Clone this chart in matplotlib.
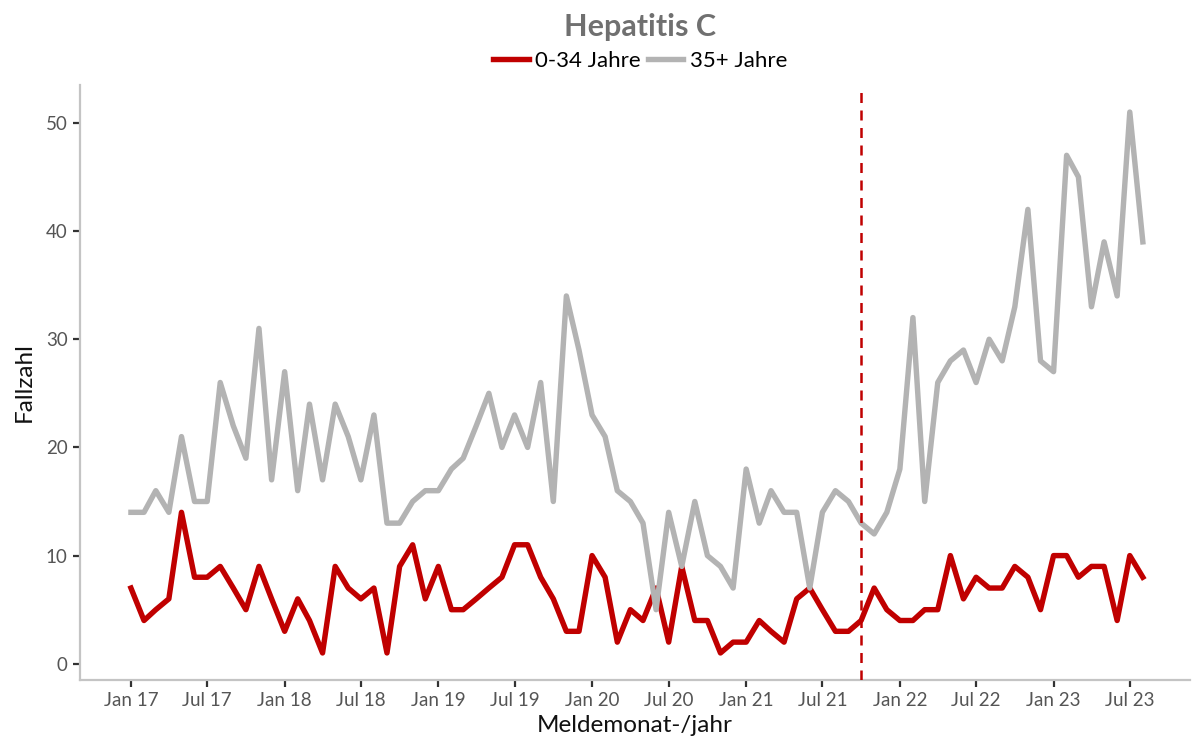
import pandas as pd
import numpy as np
import matplotlib
matplotlib.use("Agg")
import matplotlib.pyplot as plt
import matplotlib.dates as mdates

# monthly case counts, Jan 2017 - Aug 2023
months = pd.date_range("2017-01-01", periods=80, freq="MS")

jung = [7, 4, 5, 6, 14, 8, 8, 9, 7, 5, 9, 6,
        3, 6, 4, 1, 9, 7, 6, 7, 1, 9, 11, 6,
        9, 5, 5, 6, 7, 8, 11, 11, 8, 6, 3, 3,
        10, 8, 2, 5, 4, 7, 2, 9, 4, 4, 1, 2,
        2, 4, 3, 2, 6, 7, 5, 3, 3, 4, 7, 5,
        4, 4, 5, 5, 10, 6, 8, 7, 7, 9, 8, 5,
        10, 10, 8, 9, 9, 4, 10, 8]

alt = [14, 14, 16, 14, 21, 15, 15, 26, 22, 19, 31, 17,
       27, 16, 24, 17, 24, 21, 17, 23, 13, 13, 15, 16,
       16, 18, 19, 22, 25, 20, 23, 20, 26, 15, 34, 29,
       23, 21, 16, 15, 13, 5, 14, 9, 15, 10, 9, 7,
       18, 13, 16, 14, 14, 7, 14, 16, 15, 13, 12, 14,
       18, 32, 15, 26, 28, 29, 26, 30, 28, 33, 42, 28,
       27, 47, 45, 33, 39, 34, 51, 39]

labels = ["0-34 Jahre", "35+ Jahre"]
grenze = pd.Timestamp("2021-10-01")

rot = "#C00000"
grau = "#B3B3B3"

plt.rcParams["font.family"] = ["Lato", "DejaVu Sans"]

fig = plt.figure(figsize=(11.92, 7.42), dpi=100)
ax = fig.add_axes([80 / 1192, 62 / 742, 1110 / 1192, 595 / 742])

ax.plot(months, jung, color=rot, lw=3.9, label=labels[0], solid_joinstyle="round", zorder=2)
ax.plot(months, alt, color=grau, lw=3.9, label=labels[1], solid_joinstyle="round", zorder=3)
ax.axvline(grenze, color=rot, lw=1.8, ls=(0, (4, 3)), zorder=4)

ax.set_xlim(months[0] - pd.Timedelta(days=121), months[-1] + pd.Timedelta(days=112))
ax.set_ylim(-1.5, 53.5)
ax.set_yticks([0, 10, 20, 30, 40, 50])
ax.xaxis.set_major_locator(mdates.MonthLocator(bymonth=[1, 7]))
ax.xaxis.set_major_formatter(mdates.DateFormatter("%b %y"))

for s in ["top", "right"]:
    ax.spines[s].set_visible(False)
for s in ["left", "bottom"]:
    ax.spines[s].set_color("#c4c4c4")
    ax.spines[s].set_linewidth(1.6)
ax.tick_params(axis="both", length=5, width=1.6, color="#333333",
               labelsize=13.5, labelcolor="#555555", pad=4)

ax.set_xlabel("Meldemonat-/jahr", fontsize=17.5, color="#111111", labelpad=4)
ax.set_ylabel("Fallzahl", fontsize=17.5, color="#111111", labelpad=8)

fig.text(0.537, 0.963, "Hepatitis C", ha="center", va="center",
         fontsize=22, fontweight="bold", color="#707070")
fig.legend(loc="center", bbox_to_anchor=(0.537, 0.918), ncol=2, frameon=False,
           fontsize=16, handlelength=1.6, handletextpad=0.3, columnspacing=0.3)

plt.savefig("out.png", dpi=100)
